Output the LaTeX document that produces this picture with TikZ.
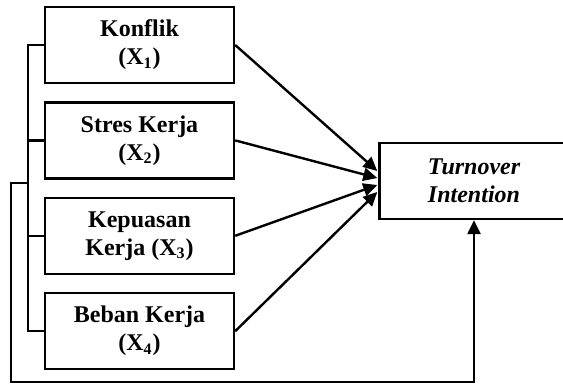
\documentclass[tikz,border=0pt]{standalone}
\usepackage{fontspec}
\setmainfont{Liberation Serif}
\usetikzlibrary{arrows.meta, positioning, calc}

\begin{document}
\begin{tikzpicture}[x=0.5pt, y=-0.5pt, line width=1.2pt,
    every node/.style={font=\fontsize{12}{14}\selectfont\bfseries},
    var/.style={draw, minimum width=94.5pt, minimum height=38pt, align=center, inner sep=2pt},
    arr/.style={-{Triangle[length=7pt, width=6.5pt]}}]
        \useasboundingbox (0,0) rectangle (563,385);
        % independent variables
        \node[var] (x1) at (139.5,45) {Konflik\\(X\textsubscript{1})};
        \node[var, below=8.5pt of x1] (x2) {Stres Kerja\\(X\textsubscript{2})};
        \node[var, below=8.5pt of x2] (x3) {Kepuasan\\Kerja (X\textsubscript{3})};
        \node[var, below=8.5pt of x3] (x4) {Beban Kerja\\(X\textsubscript{4})};
        % dependent variable
        \node[var, font=\fontsize{12}{14}\selectfont\bfseries\itshape] (ti) at (474,181) {Turnover\\Intention};
        % partial effects
        \draw[arr] (x1.east) -- ($(ti.west)+(-1,-10)$);
        \draw[arr] (x2.east) -- ($(ti.west)+(-1,-3)$);
        \draw[arr] (x3.east) -- ($(ti.west)+(-1,4)$);
        \draw[arr] (x4.east) -- ($(ti.west)+(-1,11)$);
        % simultaneous effect
        \draw (x1.west) -- ++(-16,0) coordinate (b1) |- (x4.west);
        \draw (x2.west) -- (x2.west -| b1);
        \draw (x3.west) -- (x3.west -| b1);
        \coordinate (jn) at (b1 |- 0,183);
        \draw[arr] (jn) -- ++(-17,0) -- ++(0,199) -| (ti.south);
      \end{tikzpicture}
\end{document}
